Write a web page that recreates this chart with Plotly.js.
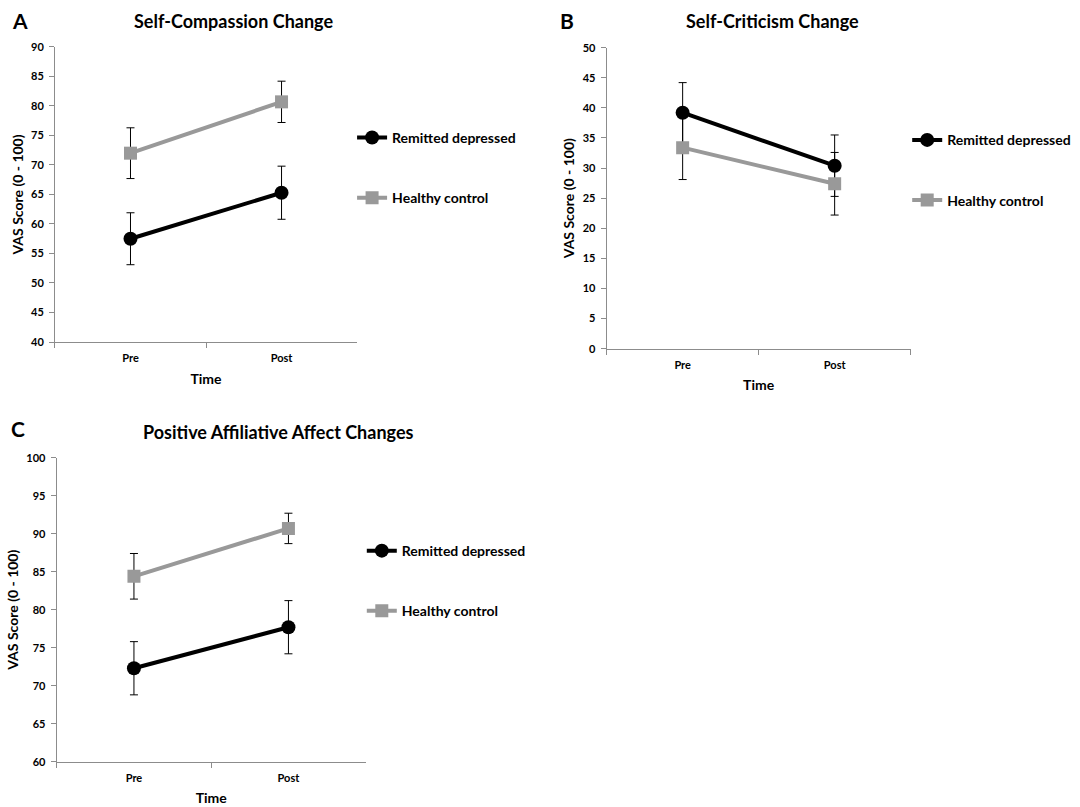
<!DOCTYPE html>
<html>
<head>
<meta charset="utf-8">
<script src="https://cdn.plot.ly/plotly-3.0.1.min.js"></script>
<style>html,body{margin:0;padding:0;background:#fff;}#chart{width:1080px;height:807px;}</style>
</head>
<body>
<div id="chart"></div>
<script>
const timepoints = ["Pre", "Post"];
const seriesNames = ["Remitted depressed", "Healthy control"];

// Panel A: Self-Compassion Change
const compRemitted = [57.5, 65.3];
const compRemittedErr = [4.4, 4.5];
const compHealthy = [72.0, 80.7];
const compHealthyErr = [4.3, 3.5];

// Panel B: Self-Criticism Change
const critRemitted = [39.2, 30.4];
const critRemittedErr = [5.0, 5.1];
const critHealthy = [33.4, 27.4];
const critHealthyErr = [5.3, 5.2];

// Panel C: Positive Affiliative Affect Changes
const affRemitted = [72.3, 77.7];
const affRemittedErr = [3.5, 3.5];
const affHealthy = [84.4, 90.7];
const affHealthyErr = [3.0, 2.0];

const panelTitles = ["Self-Compassion Change", "Self-Criticism Change", "Positive Affiliative Affect Changes"];
const panelLetters = ["A", "B", "C"];
const yTitle = "VAS Score (0 - 100)";
const xTitle = "Time";

const FONT = "Lato, 'Open Sans', sans-serif";
const BLACK = "#000000";
const GREY = "#999999";
const AXIS = "#8c8c8c";

function mk(y, err, idx, xa, ya, legend) {
  const isRem = idx === 0;
  return {
    x: timepoints, y: y, type: "scatter", mode: "lines+markers",
    name: seriesNames[idx], xaxis: xa, yaxis: ya, legend: legend,
    legendgroup: legend + "_" + idx,
    line: {color: isRem ? BLACK : GREY, width: 4},
    marker: {color: isRem ? BLACK : GREY, size: isRem ? 14 : 13, symbol: isRem ? "circle" : "square"},
    error_y: {type: "data", array: err, visible: true, color: BLACK, thickness: 1, width: 4},
    hoverinfo: "x+y+name"
  };
}

const data = [
  mk(compRemitted, compRemittedErr, 0, "x", "y", "legend"),
  mk(compHealthy, compHealthyErr, 1, "x", "y", "legend"),
  mk(critRemitted, critRemittedErr, 0, "x2", "y2", "legend2"),
  mk(critHealthy, critHealthyErr, 1, "x2", "y2", "legend2"),
  mk(affRemitted, affRemittedErr, 0, "x3", "y3", "legend3"),
  mk(affHealthy, affHealthyErr, 1, "x3", "y3", "legend3")
];

function xaxis(domain, anchor) {
  return {
    domain: domain, anchor: anchor, type: "category", range: [-0.5, 1.5],
    tickson: "boundaries", ticks: "outside", ticklen: 5, tickcolor: AXIS, tickwidth: 1,
    ticklabelstandoff: 6,
    showline: true, linecolor: AXIS, linewidth: 1, showgrid: false, zeroline: false,
    tickfont: {family: FONT, size: 11, color: "#000", weight: "bold"},
    title: {text: xTitle, font: {family: FONT, size: 14, color: "#000", weight: "bold"}, standoff: 10},
    fixedrange: true
  };
}
function yaxis(domain, anchor, range, dtick) {
  return {
    domain: domain, anchor: anchor, range: range, dtick: dtick, tick0: 0,
    ticks: "outside", ticklen: 5, tickcolor: AXIS, tickwidth: 1,
    ticklabelstandoff: 3,
    showline: true, linecolor: AXIS, linewidth: 1, showgrid: false, zeroline: false,
    tickfont: {family: FONT, size: 11, color: "#000", weight: "bold"},
    title: {text: yTitle, font: {family: FONT, size: 14, color: "#000", weight: "bold"}, standoff: 4},
    fixedrange: true
  };
}
function legend(x, y) {
  return {
    x: x, y: y, xanchor: "left", yanchor: "top", bgcolor: "rgba(0,0,0,0)",
    font: {family: FONT, size: 14, color: "#000", weight: "bold"},
    tracegroupgap: 39, itemwidth: 30
  };
}

const annFont = (s) => ({family: FONT, size: s, color: "#000", weight: "bold"});
const layout = {
  width: 1080, height: 807,
  margin: {l: 0, r: 0, t: 0, b: 0},
  paper_bgcolor: "#fff", plot_bgcolor: "#fff",
  showlegend: true,
  xaxis: xaxis([0.0509, 0.3306], "y"),
  yaxis: yaxis([0.5762, 0.9418], "x", [40, 90], 5),
  xaxis2: xaxis([0.5617, 0.8432], "y2"),
  yaxis2: yaxis([0.5679, 0.9409], "x2", [0, 50], 5),
  xaxis3: xaxis([0.0525, 0.3386], "y3"),
  yaxis3: yaxis([0.0561, 0.4328], "x3", [60, 100], 5),
  legend: legend(0.326, 0.849),
  legend2: legend(0.840, 0.846),
  legend3: legend(0.335, 0.337),
  annotations: [
    {text: panelLetters[0], x: 10/1080, y: 1 - 20/807, xref: "paper", yref: "paper", xanchor: "left", yanchor: "middle", showarrow: false, font: annFont(21)},
    {text: panelLetters[1], x: 558/1080, y: 1 - 20/807, xref: "paper", yref: "paper", xanchor: "left", yanchor: "middle", showarrow: false, font: annFont(21)},
    {text: panelLetters[2], x: 9/1080, y: 1 - 428/807, xref: "paper", yref: "paper", xanchor: "left", yanchor: "middle", showarrow: false, font: annFont(21)},
    {text: panelTitles[0], x: 233/1080, y: 1 - 21/807, xref: "paper", yref: "paper", xanchor: "center", yanchor: "middle", showarrow: false, font: annFont(18)},
    {text: panelTitles[1], x: 772/1080, y: 1 - 21/807, xref: "paper", yref: "paper", xanchor: "center", yanchor: "middle", showarrow: false, font: annFont(18)},
    {text: panelTitles[2], x: 278/1080, y: 1 - 432/807, xref: "paper", yref: "paper", xanchor: "center", yanchor: "middle", showarrow: false, font: annFont(18)}
  ]
};

Plotly.newPlot("chart", data, layout, {displayModeBar: false, staticPlot: false});
</script>
</body>
</html>
